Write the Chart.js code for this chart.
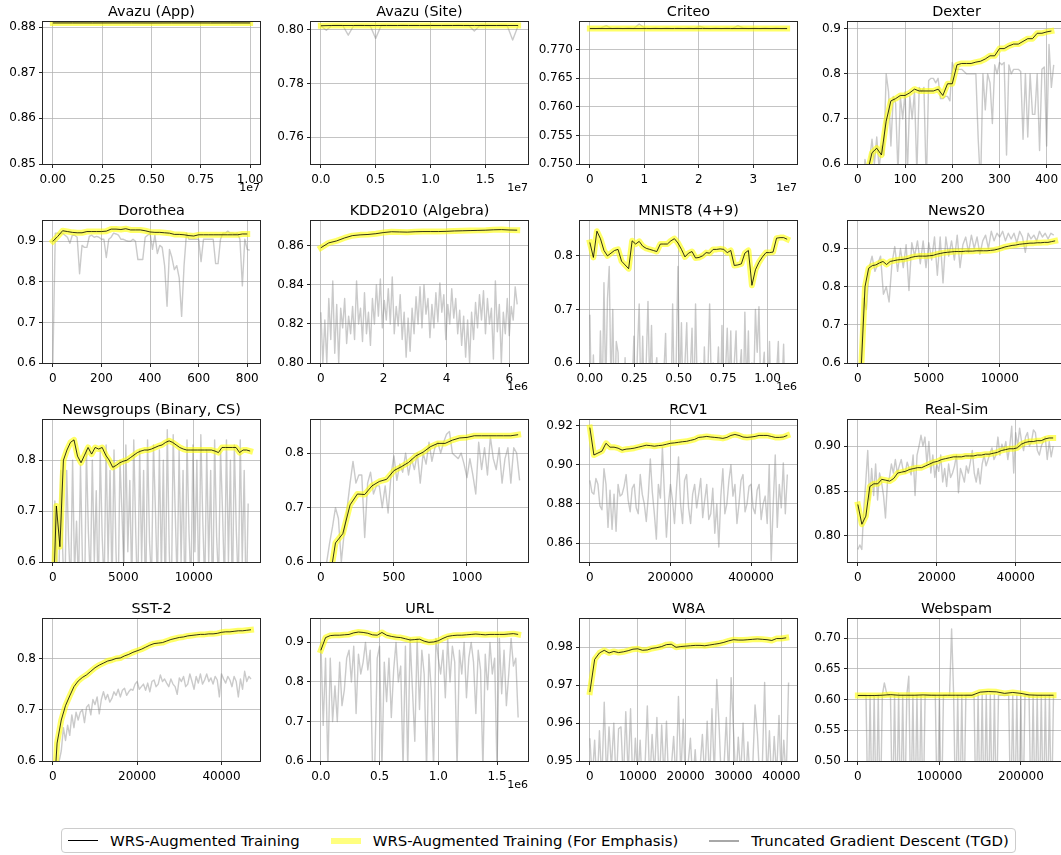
<!DOCTYPE html>
<html lang="en">
<head>
<meta charset="UTF-8">
<title>WRS-Augmented Training vs TGD</title>
<script src="https://cdn.jsdelivr.net/npm/chart.js"></script>
<style>
  body { margin: 0; background: #fff; overflow: hidden; }
  #figure { position: relative; width: 1061px; height: 855px; overflow: hidden; background: #fff; }
  .panel { position: absolute; }
  #legend {
    position: absolute; left: 61px; top: 828px; height: 25px; box-sizing: border-box;
    border: 1px solid #cccccc; border-radius: 4px; background: #fff;
    display: flex; align-items: center; padding: 0 6px; gap: 31px;
    font-family: 'DejaVu Sans', sans-serif; font-size: 14.9px; color: #000; white-space: nowrap;
  }
  #legend .item { display: flex; align-items: center; }
  #legend .swatch { display: inline-block; width: 30px; margin-right: 12px; }
</style>
</head>
<body>
<div id="figure">
  <div id="legend">
    <span class="item"><span class="swatch" style="height:1.3px;background:#000"></span>WRS-Augmented Training</span>
    <span class="item"><span class="swatch" style="height:6px;background:rgba(255,255,0,0.5)"></span>WRS-Augmented Training (For Emphasis)</span>
    <span class="item"><span class="swatch" style="height:2px;background:#a8a8a8"></span>Truncated Gradient Descent (TGD)</span>
  </div>
</div>
<script>
const titles = ['Avazu (App)', 'Avazu (Site)', 'Criteo', 'Dexter',
  'Dorothea', 'KDD2010 (Algebra)', 'MNIST8 (4+9)', 'News20',
  'Newsgroups (Binary, CS)', 'PCMAC', 'RCV1', 'Real-Sim',
  'SST-2', 'URL', 'W8A', 'Webspam'];

// accuracy curves, evenly spaced over each run
const avazuAppWrs = [0.8809,0.8809,0.8809,0.8809,0.8809,0.8809,0.8809,0.8809,0.8809,0.8809,0.8809];
const avazuAppTgd = [0.8808,0.8809,0.8808,0.8809,0.8809,0.8808,0.8809,0.8809,0.8808,0.8809,0.8808];

const avazuSiteWrs = [0.8015,0.8016,0.8016,0.8016,0.8016,0.8016,0.8016,0.8016,0.8016,0.8016,
  0.8016,0.8016,0.8016,0.8016,0.8016,0.8016,0.8016,0.8016,0.8016];
const avazuSiteTgd = [0.8014,0.7998,0.8016,0.8017,0.8016,0.7980,0.8016,0.8017,0.8016,0.8015,
  0.7968,0.8016,0.8017,0.8016,0.8016,0.8018,0.8016,0.8017,0.8016,0.8016,
  0.8017,0.8016,0.8016,0.8017,0.8016,0.8018,0.8016,0.8016,0.7995,0.8016,
  0.8017,0.8016,0.8016,0.8017,0.8016,0.7962,0.8015];

const criteoWrs = [0.7737,0.7737,0.7737,0.7737,0.7737,0.7737,0.7737,0.7737];
const criteoTgd = [0.7737,0.7737,0.7738,0.7742,0.7737,0.7738,0.7737,0.7738,0.7737,0.7745,
  0.7738,0.7737,0.7738,0.7737,0.7738,0.7737,0.7738,0.7737,0.7738,0.7737,
  0.7741,0.7738,0.7737,0.7738,0.7737,0.7738,0.7737,0.7742,0.7738,0.7737,
  0.7738,0.7737,0.7738,0.7737,0.7738,0.7737,0.7737];

const dexterWrs = [0.50,0.53,0.58,0.625,0.635,0.62,0.695,0.74,0.745,0.752,
  0.752,0.758,0.766,0.762,0.762,0.762,0.762,0.766,0.752,0.778,
  0.778,0.82,0.823,0.823,0.823,0.826,0.828,0.833,0.84,0.84,
  0.856,0.856,0.862,0.866,0.866,0.872,0.878,0.878,0.89,0.89,
  0.893,0.895];
const dexterTgd = [0.40,0.45,0.52,0.61,0.58,0.61,0.655,0.60,0.66,0.59,
  0.64,0.62,0.80,0.76,0.64,0.75,0.735,0.58,0.75,0.70,
  0.76,0.58,0.75,0.70,0.76,0.58,0.77,0.76,0.77,0.55,
  0.785,0.79,0.79,0.78,0.79,0.745,0.745,0.75,0.75,0.74,
  0.825,0.81,0.81,0.81,0.81,0.805,0.80,0.80,0.80,0.80,
  0.80,0.655,0.55,0.80,0.72,0.80,0.78,0.69,0.82,0.80,
  0.825,0.82,0.825,0.62,0.82,0.80,0.81,0.81,0.81,0.805,
  0.655,0.80,0.66,0.80,0.71,0.71,0.80,0.63,0.81,0.815,
  0.64,0.865,0.77,0.82];

const dorotheaWrs = [0.900,0.912,0.926,0.924,0.922,0.921,0.921,0.924,0.924,0.924,
  0.924,0.925,0.930,0.930,0.929,0.931,0.928,0.928,0.928,0.926,
  0.923,0.922,0.922,0.921,0.920,0.917,0.917,0.916,0.914,0.913,
  0.916,0.916,0.916,0.916,0.916,0.916,0.916,0.916,0.916,0.918,0.918];
const dorotheaTgd = [0.60,0.92,0.92,0.918,0.92,0.915,0.91,0.895,0.915,0.915,
  0.91,0.82,0.89,0.885,0.885,0.912,0.915,0.91,0.912,0.91,
  0.905,0.905,0.86,0.905,0.91,0.92,0.918,0.915,0.905,0.905,
  0.902,0.90,0.90,0.905,0.90,0.855,0.855,0.855,0.91,0.915,
  0.92,0.88,0.915,0.87,0.89,0.885,0.84,0.74,0.88,0.86,
  0.83,0.84,0.81,0.715,0.84,0.92,0.905,0.905,0.905,0.905,
  0.905,0.85,0.905,0.905,0.905,0.905,0.905,0.845,0.845,0.905,
  0.92,0.92,0.925,0.92,0.92,0.918,0.92,0.905,0.79,0.905,
  0.88,0.878];

const kddWrs = [0.8590,0.8615,0.8625,0.8640,0.8652,0.8656,0.8658,0.8662,0.8668,0.8672,
  0.8671,0.8670,0.8672,0.8673,0.8673,0.8673,0.8674,0.8676,0.8677,0.8678,
  0.8679,0.8680,0.8682,0.8683,0.8681,0.8680];
const kddTgd = [0.826,0.800,0.822,0.800,0.833,0.812,0.842,0.805,0.830,0.800,
  0.828,0.818,0.833,0.810,0.824,0.815,0.829,0.812,0.842,0.820,
  0.828,0.811,0.836,0.815,0.826,0.809,0.833,0.820,0.840,0.824,
  0.843,0.818,0.832,0.822,0.838,0.820,0.844,0.815,0.829,0.819,
  0.835,0.812,0.826,0.803,0.823,0.806,0.828,0.815,0.834,0.820,
  0.839,0.818,0.840,0.825,0.833,0.813,0.830,0.818,0.836,0.821,
  0.841,0.826,0.835,0.812,0.830,0.820,0.838,0.823,0.833,0.815,
  0.827,0.809,0.824,0.803,0.822,0.800,0.826,0.812,0.831,0.818,
  0.835,0.822,0.837,0.815,0.833,0.820,0.828,0.802,0.842,0.816,
  0.830,0.800,0.826,0.815,0.833,0.814,0.829,0.822,0.839,0.830];

const mnistWrs = [0.825,0.797,0.846,0.832,0.810,0.800,0.805,0.810,0.812,0.790,
  0.783,0.776,0.828,0.822,0.827,0.818,0.814,0.812,0.810,0.808,
  0.822,0.822,0.822,0.828,0.832,0.824,0.812,0.798,0.805,0.808,
  0.796,0.797,0.800,0.806,0.805,0.812,0.812,0.813,0.812,0.806,
  0.810,0.782,0.783,0.785,0.805,0.810,0.745,0.774,0.788,0.798,
  0.806,0.806,0.807,0.833,0.834,0.834,0.831];
const mnistTgd = [0.69,0.50,0.615,0.50,0.55,0.50,0.66,0.52,0.75,0.55,
  0.72,0.78,0.55,0.70,0.50,0.64,0.62,0.50,0.58,0.50,
  0.61,0.50,0.56,0.50,0.55,0.65,0.50,0.62,0.71,0.52,
  0.65,0.50,0.60,0.715,0.55,0.67,0.50,0.58,0.61,0.50,
  0.55,0.50,0.58,0.655,0.50,0.56,0.50,0.71,0.52,0.60,
  0.78,0.55,0.675,0.50,0.60,0.675,0.52,0.58,0.665,0.50,
  0.71,0.55,0.50,0.60,0.50,0.63,0.52,0.58,0.71,0.55,
  0.60,0.50,0.56,0.63,0.50,0.67,0.52,0.58,0.665,0.55,
  0.66,0.50,0.60,0.66,0.52,0.58,0.625,0.50,0.695,0.55,
  0.66,0.50,0.60,0.55,0.70,0.62,0.705,0.55,0.58,0.62,
  0.50,0.55,0.64,0.50,0.56,0.50,0.58,0.64,0.50,0.55,
  0.635,0.50,0.56];

const news20Wrs = [0.45,0.60,0.80,0.848,0.855,0.857,0.862,0.866,0.858,0.866,
  0.868,0.870,0.871,0.872,0.874,0.877,0.879,0.880,0.880,0.880,
  0.881,0.882,0.885,0.887,0.889,0.890,0.891,0.892,0.892,0.892,
  0.893,0.893,0.893,0.894,0.894,0.894,0.894,0.895,0.896,0.898,
  0.901,0.904,0.906,0.908,0.909,0.911,0.912,0.913,0.914,0.914,
  0.915,0.915,0.916,0.916,0.918,0.920];
const news20Tgd = [0.45,0.60,0.77,0.74,0.85,0.88,0.84,0.86,0.88,0.78,
  0.80,0.76,0.86,0.905,0.84,0.90,0.85,0.91,0.79,0.915,
  0.88,0.92,0.86,0.92,0.85,0.915,0.87,0.93,0.83,0.93,
  0.81,0.93,0.88,0.92,0.87,0.935,0.85,0.91,0.93,0.89,
  0.935,0.90,0.93,0.885,0.92,0.935,0.90,0.945,0.92,0.94,
  0.93,0.945,0.92,0.94,0.925,0.94,0.915,0.945,0.93,0.89,
  0.94,0.925,0.935,0.92,0.945,0.93,0.94,0.925,0.94,0.935];

const newsgroupsWrs = [0.50,0.71,0.63,0.80,0.82,0.835,0.84,0.808,0.795,0.81,
  0.825,0.812,0.825,0.822,0.825,0.81,0.80,0.786,0.79,0.795,
  0.798,0.80,0.805,0.81,0.815,0.818,0.82,0.82,0.822,0.825,
  0.828,0.83,0.835,0.838,0.835,0.83,0.825,0.822,0.82,0.82,
  0.82,0.82,0.82,0.82,0.82,0.82,0.818,0.815,0.825,0.825,
  0.825,0.825,0.825,0.815,0.82,0.82,0.818];
const newsgroupsTgd = [0.50,0.72,0.60,0.55,0.78,0.62,0.50,0.78,0.64,0.55,
  0.80,0.58,0.68,0.55,0.79,0.60,0.50,0.82,0.66,0.56,
  0.80,0.60,0.74,0.52,0.82,0.65,0.55,0.83,0.60,0.78,
  0.55,0.82,0.62,0.50,0.80,0.70,0.58,0.83,0.62,0.76,
  0.55,0.84,0.66,0.52,0.82,0.60,0.78,0.50,0.84,0.64,
  0.56,0.83,0.70,0.55,0.82,0.58,0.80,0.52,0.86,0.62,
  0.50,0.85,0.70,0.56,0.82,0.60,0.78,0.50,0.84,0.66,
  0.55,0.83,0.62,0.80,0.52,0.85,0.68,0.55,0.82,0.60,
  0.78,0.50,0.84,0.65,0.56,0.82,0.70,0.55,0.84,0.60,
  0.80,0.52,0.83,0.66,0.55,0.84,0.60,0.78,0.50,0.715];

const pcmacWrs = [0.45,0.55,0.635,0.652,0.705,0.725,0.724,0.74,0.748,0.752,
  0.768,0.775,0.783,0.795,0.802,0.812,0.818,0.818,0.824,0.828,
  0.829,0.832,0.832,0.832,0.832,0.832,0.832,0.834];
const pcmacTgd = [0.50,0.55,0.60,0.635,0.665,0.70,0.68,0.60,0.655,0.70,
  0.745,0.785,0.745,0.76,0.76,0.645,0.745,0.765,0.725,0.74,
  0.74,0.70,0.74,0.69,0.76,0.795,0.75,0.78,0.765,0.80,
  0.76,0.79,0.77,0.80,0.745,0.80,0.78,0.82,0.785,0.81,
  0.82,0.80,0.82,0.835,0.84,0.80,0.795,0.79,0.80,0.78,
  0.755,0.79,0.76,0.725,0.82,0.77,0.81,0.76,0.83,0.79,
  0.77,0.81,0.745,0.79,0.81,0.745,0.81,0.80,0.75];

const rcv1Wrs = [0.919,0.905,0.906,0.907,0.911,0.909,0.909,0.9085,0.9075,0.908,
  0.9082,0.9085,0.909,0.9095,0.910,0.9098,0.9095,0.9098,0.910,0.9105,
  0.911,0.9112,0.9115,0.9118,0.912,0.9125,0.913,0.914,0.9142,0.9145,
  0.9142,0.914,0.9138,0.9135,0.914,0.915,0.9155,0.915,0.9142,0.914,
  0.9142,0.9145,0.915,0.915,0.915,0.9145,0.914,0.914,0.9142,0.915];
const rcv1Tgd = [0.892,0.886,0.885,0.893,0.890,0.879,0.877,0.898,0.890,0.868,
  0.887,0.867,0.885,0.866,0.890,0.884,0.885,0.889,0.895,0.882,
  0.876,0.888,0.890,0.878,0.875,0.895,0.885,0.880,0.871,0.884,
  0.903,0.886,0.875,0.862,0.890,0.883,0.909,0.885,0.863,0.880,
  0.890,0.882,0.870,0.888,0.904,0.880,0.870,0.892,0.895,0.878,
  0.870,0.885,0.890,0.878,0.885,0.893,0.873,0.882,0.890,0.872,
  0.875,0.888,0.865,0.880,0.858,0.884,0.898,0.875,0.880,0.892,
  0.900,0.884,0.890,0.870,0.880,0.892,0.895,0.876,0.880,0.889,
  0.890,0.878,0.875,0.887,0.890,0.872,0.880,0.884,0.870,0.900,
  0.851,0.880,0.905,0.868,0.890,0.878,0.901,0.875,0.895];

const realSimWrs = [0.835,0.813,0.822,0.855,0.858,0.858,0.863,0.862,0.861,0.864,
  0.870,0.871,0.872,0.874,0.875,0.876,0.876,0.878,0.880,0.882,
  0.883,0.885,0.886,0.887,0.888,0.888,0.888,0.889,0.889,0.889,
  0.890,0.890,0.891,0.891,0.892,0.893,0.895,0.896,0.897,0.897,
  0.898,0.902,0.904,0.905,0.905,0.906,0.906,0.908,0.909,0.909];
const realSimTgd = [0.785,0.79,0.785,0.83,0.86,0.895,0.84,0.875,0.845,0.88,
  0.84,0.87,0.86,0.845,0.82,0.86,0.865,0.88,0.87,0.885,
  0.87,0.878,0.885,0.872,0.87,0.882,0.875,0.868,0.89,0.845,
  0.89,0.90,0.912,0.90,0.91,0.88,0.905,0.87,0.89,0.865,
  0.88,0.872,0.89,0.86,0.875,0.855,0.88,0.865,0.87,0.878,
  0.89,0.848,0.875,0.868,0.86,0.878,0.87,0.882,0.895,0.87,
  0.86,0.875,0.858,0.88,0.89,0.878,0.885,0.892,0.898,0.885,
  0.89,0.91,0.89,0.902,0.895,0.905,0.885,0.90,0.922,0.87,
  0.915,0.90,0.92,0.905,0.895,0.91,0.915,0.90,0.905,0.918,
  0.915,0.895,0.89,0.90,0.905,0.91,0.885,0.905,0.888,0.90];

const sst2Wrs = [0.50,0.635,0.68,0.708,0.727,0.745,0.756,0.763,0.768,0.775,
  0.782,0.787,0.791,0.795,0.797,0.800,0.801,0.805,0.808,0.812,
  0.815,0.818,0.822,0.826,0.829,0.830,0.831,0.834,0.837,0.839,
  0.841,0.842,0.844,0.845,0.846,0.847,0.847,0.848,0.848,0.849,
  0.851,0.852,0.852,0.853,0.854,0.854,0.855,0.856];
const sst2Tgd = [0.50,0.55,0.58,0.60,0.62,0.665,0.64,0.67,0.65,0.69,
  0.665,0.695,0.68,0.695,0.70,0.675,0.705,0.71,0.69,0.72,
  0.71,0.725,0.692,0.72,0.735,0.72,0.73,0.715,0.722,0.735,
  0.728,0.74,0.725,0.738,0.742,0.728,0.735,0.74,0.738,0.75,
  0.755,0.74,0.745,0.75,0.738,0.752,0.735,0.755,0.758,0.745,
  0.75,0.768,0.755,0.76,0.752,0.745,0.76,0.75,0.745,0.73,
  0.762,0.755,0.765,0.745,0.75,0.77,0.755,0.74,0.765,0.752,
  0.77,0.75,0.758,0.77,0.755,0.762,0.75,0.765,0.758,0.725,
  0.77,0.76,0.752,0.765,0.758,0.745,0.765,0.755,0.725,0.76,
  0.74,0.775,0.755,0.765,0.76];

const urlWrs = [0.880,0.912,0.917,0.918,0.918,0.919,0.920,0.924,0.926,0.925,
  0.923,0.919,0.918,0.925,0.918,0.915,0.913,0.912,0.909,0.906,
  0.907,0.908,0.903,0.900,0.901,0.904,0.910,0.915,0.917,0.918,
  0.918,0.919,0.920,0.921,0.920,0.919,0.920,0.920,0.920,0.920,
  0.921,0.922,0.920];
const urlTgd = [0.90,0.69,0.86,0.58,0.86,0.70,0.79,0.70,0.85,0.74,
  0.78,0.86,0.88,0.80,0.89,0.72,0.87,0.82,0.85,0.90,
  0.83,0.88,0.58,0.60,0.86,0.89,0.58,0.85,0.75,0.86,
  0.71,0.83,0.90,0.80,0.84,0.58,0.89,0.58,0.91,0.78,
  0.65,0.91,0.73,0.88,0.82,0.58,0.87,0.78,0.58,0.91,
  0.86,0.82,0.88,0.76,0.91,0.80,0.89,0.85,0.58,0.88,
  0.82,0.90,0.76,0.86,0.90,0.85,0.72,0.88,0.83,0.58,
  0.87,0.78,0.90,0.82,0.86,0.58,0.91,0.77,0.88,0.74,
  0.82,0.91,0.84,0.86,0.71];

const w8aWrs = [0.9682,0.9768,0.9785,0.9792,0.9785,0.9789,0.9786,0.9788,0.9791,0.9795,
  0.9796,0.9792,0.9793,0.9797,0.9799,0.9802,0.9807,0.9808,0.9800,0.9802,
  0.9803,0.9804,0.9805,0.9805,0.9804,0.9806,0.9808,0.9810,0.9813,0.9817,
  0.9820,0.9819,0.9819,0.9820,0.9821,0.9822,0.9821,0.9820,0.9818,0.9823,
  0.9823,0.9825];
const w8aTgd = [0.956,0.945,0.9555,0.942,0.958,0.944,0.9655,0.945,0.959,0.948,
  0.960,0.943,0.9585,0.959,0.944,0.963,0.946,0.9638,0.942,0.956,
  0.945,0.9555,0.941,0.948,0.9645,0.944,0.957,0.946,0.9615,0.943,
  0.9595,0.945,0.9605,0.942,0.948,0.9565,0.944,0.967,0.946,0.961,
  0.943,0.949,0.956,0.944,0.953,0.942,0.948,0.957,0.945,0.9605,
  0.944,0.9638,0.946,0.9715,0.959,0.943,0.948,0.9615,0.945,0.972,
  0.958,0.944,0.9563,0.946,0.960,0.943,0.955,0.944,0.948,0.9648,
  0.957,0.944,0.948,0.9707,0.945,0.958,0.943,0.9565,0.946,0.962,
  0.944,0.9555,0.945,0.9707];

const webspamWrs = [0.6065,0.6065,0.6065,0.607,0.608,0.607,0.607,0.607,0.6075,0.607,
  0.607,0.607,0.607,0.607,0.607,0.612,0.613,0.6125,0.610,0.6115,
  0.610,0.6075,0.607,0.607,0.607];
const webspamTgd = [0.607,0.607,0.607,0.607,0.607,0.40,0.607,0.40,0.607,0.40,
  0.607,0.40,0.607,0.627,0.612,0.607,0.607,0.40,0.607,0.40,
  0.61,0.40,0.607,0.40,0.607,0.638,0.40,0.607,0.40,0.607,
  0.40,0.607,0.40,0.607,0.607,0.607,0.607,0.607,0.607,0.40,
  0.607,0.40,0.607,0.607,0.607,0.607,0.715,0.607,0.40,0.607,
  0.40,0.607,0.40,0.607,0.607,0.607,0.607,0.607,0.40,0.607,
  0.40,0.608,0.40,0.608,0.40,0.608,0.40,0.608,0.40,0.607,
  0.607,0.607,0.607,0.607,0.607,0.40,0.607,0.40,0.607,0.40,
  0.607,0.40,0.607,0.607,0.607,0.40,0.607,0.40,0.607,0.40,
  0.607,0.40,0.607,0.40,0.607,0.40,0.607];

// tick positions
const yTicksAvazuApp = [0.85, 0.86, 0.87, 0.88];
const yTicksAvazuSite = [0.76, 0.78, 0.80];
const yTicksCriteo = [0.750, 0.755, 0.760, 0.765, 0.770];
const yTicksTenths = [0.6, 0.7, 0.8, 0.9];
const yTicksLow = [0.6, 0.7, 0.8];
const yTicksKdd = [0.80, 0.82, 0.84, 0.86];
const yTicksRcv1 = [0.86, 0.88, 0.90, 0.92];
const yTicksRealSim = [0.80, 0.85, 0.90];
const yTicksW8a = [0.95, 0.96, 0.97, 0.98];
const yTicksWebspam = [0.50, 0.55, 0.60, 0.65, 0.70];

const panels = [
  { wrs: avazuAppWrs, tgd: avazuAppTgd, wrsEnd: 1.0e7, tgdEnd: 1.0e7, span: 1.0e7, y: [0.85, 0.8811], yTicks: yTicksAvazuApp, yDec: 2, xTicks: [0, 2.5e6, 5e6, 7.5e6, 1e7], xDec: 2, exp: 7 },
  { wrs: avazuSiteWrs, tgd: avazuSiteTgd, wrsEnd: 1.8e7, tgdEnd: 1.8e7, span: 1.8e7, y: [0.75, 0.8029], yTicks: yTicksAvazuSite, yDec: 2, xTicks: [0, 5e6, 1e7, 1.5e7], xDec: 1, exp: 7 },
  { wrs: criteoWrs, tgd: criteoTgd, wrsEnd: 3.62e7, tgdEnd: 3.62e7, span: 3.62e7, y: [0.75, 0.77485], yTicks: yTicksCriteo, yDec: 3, xTicks: [0, 1e7, 2e7, 3e7], xDec: 0, exp: 7 },
  { wrs: dexterWrs, tgd: dexterTgd, wrsEnd: 410, tgdEnd: 415, span: 418, y: [0.6, 0.915], yTicks: yTicksTenths, yDec: 1, xTicks: [0, 100, 200, 300, 400], xDec: 0 },
  { wrs: dorotheaWrs, tgd: dorotheaTgd, wrsEnd: 800, tgdEnd: 810, span: 812, y: [0.6, 0.95], yTicks: yTicksTenths, yDec: 1, xTicks: [0, 200, 400, 600, 800], xDec: 0 },
  { wrs: kddWrs, tgd: kddTgd, wrsEnd: 6.25e6, tgdEnd: 6.25e6, span: 6.28e6, y: [0.80, 0.8727], yTicks: yTicksKdd, yDec: 2, xTicks: [0, 2e6, 4e6, 6e6], xDec: 0, exp: 6 },
  { wrs: mnistWrs, tgd: mnistTgd, wrsEnd: 1.11e6, tgdEnd: 1.11e6, span: 1.11e6, y: [0.6, 0.865], yTicks: yTicksLow, yDec: 1, xTicks: [0, 2.5e5, 5e5, 7.5e5, 1e6], xDec: 2, exp: 6 },
  { wrs: news20Wrs, tgd: news20Tgd, wrsEnd: 13900, tgdEnd: 13800, span: 13900, y: [0.6, 0.972], yTicks: yTicksTenths, yDec: 1, xTicks: [0, 5000, 10000], xDec: 0 },
  { wrs: newsgroupsWrs, tgd: newsgroupsTgd, wrsEnd: 14000, tgdEnd: 13860, span: 14000, y: [0.6, 0.879], yTicks: yTicksLow, yDec: 1, xTicks: [0, 5000, 10000], xDec: 0 },
  { wrs: pcmacWrs, tgd: pcmacTgd, wrsEnd: 1350, tgdEnd: 1360, span: 1350, y: [0.6, 0.861], yTicks: yTicksLow, yDec: 1, xTicks: [0, 500, 1000], xDec: 0 },
  { wrs: rcv1Wrs, tgd: rcv1Tgd, wrsEnd: 490000, tgdEnd: 490000, span: 489500, y: [0.8503, 0.9229], yTicks: yTicksRcv1, yDec: 2, xTicks: [0, 200000, 400000], xDec: 0 },
  { wrs: realSimWrs, tgd: realSimTgd, wrsEnd: 49500, tgdEnd: 49500, span: 50000, y: [0.771, 0.929], yTicks: yTicksRealSim, yDec: 2, xTicks: [0, 20000, 40000], xDec: 0 },
  { wrs: sst2Wrs, tgd: sst2Tgd, wrsEnd: 47000, tgdEnd: 47000, span: 46800, y: [0.6, 0.877], yTicks: yTicksLow, yDec: 1, xTicks: [0, 20000, 40000], xDec: 0 },
  { wrs: urlWrs, tgd: urlTgd, wrsEnd: 1.68e6, tgdEnd: 1.68e6, span: 1.68e6, y: [0.6, 0.959], yTicks: yTicksTenths, yDec: 1, xTicks: [0, 5e5, 1e6, 1.5e6], xDec: 1, exp: 6 },
  { wrs: w8aWrs, tgd: w8aTgd, wrsEnd: 41000, tgdEnd: 41500, span: 41200, y: [0.95, 0.98746], yTicks: yTicksW8a, yDec: 2, xTicks: [0, 10000, 20000, 30000, 40000], xDec: 0 },
  { wrs: webspamWrs, tgd: webspamTgd, wrsEnd: 240000, tgdEnd: 240000, span: 242000, y: [0.5, 0.731], yTicks: yTicksWebspam, yDec: 2, xTicks: [0, 100000, 200000], xDec: 0 }
];

// grid geometry (plot area of every subplot)
const COL_LEFT = [43, 311, 580, 848];
const ROW_TOP = [22, 221, 420, 619];
const PLOT_W = 217, PLOT_H = 142;
const AXIS_W = 48, TITLE_H = 21, XAXIS_H = 34, PAD_R = 18;
const GRID = 'rgba(176,176,176,0.75)';

Chart.defaults.font.family = "'DejaVu Sans', sans-serif";
Chart.defaults.color = '#000';

function toPoints(values, xEnd) {
  const step = xEnd / (values.length - 1);
  return values.map((y, i) => ({ x: i * step, y: y }));
}

// axes box and the "1eN" offset text
const framePlugin = {
  id: 'frame',
  afterDatasetsDraw(chart, args, opts) {
    const { ctx, chartArea: a } = chart;
    ctx.save();
    ctx.strokeStyle = '#262626';
    ctx.lineWidth = 1;
    const l = Math.round(a.left) - 0.5, t = Math.round(a.top) - 0.5;
    ctx.strokeRect(l, t, Math.round(a.right) - Math.round(a.left) + 1, Math.round(a.bottom) - Math.round(a.top) + 1);
    if (opts.exp) {
      ctx.fillStyle = '#000';
      ctx.font = "11px 'DejaVu Sans', sans-serif";
      ctx.textAlign = 'right';
      ctx.textBaseline = 'top';
      ctx.fillText('1e' + opts.exp, a.right, a.bottom + 19);
    }
    ctx.restore();
  }
};

const figure = document.getElementById('figure');

panels.forEach((p, i) => {
  const col = i % 4, row = Math.floor(i / 4);
  const canvas = document.createElement('canvas');
  canvas.className = 'panel';
  canvas.width = AXIS_W + PLOT_W + PAD_R;
  canvas.height = TITLE_H + PLOT_H + XAXIS_H;
  canvas.style.left = (COL_LEFT[col] - AXIS_W) + 'px';
  canvas.style.top = (ROW_TOP[row] - TITLE_H) + 'px';
  figure.appendChild(canvas);

  const wrsPts = toPoints(p.wrs, p.wrsEnd);
  const tgdPts = toPoints(p.tgd, p.tgdEnd);
  const div = p.exp ? Math.pow(10, p.exp) : 1;

  new Chart(canvas, {
    type: 'line',
    data: {
      datasets: [
        { label: 'WRS-Augmented Training', data: wrsPts, borderColor: 'rgba(0,0,0,0.8)', borderWidth: 1 },
        { label: 'WRS-Augmented Training (For Emphasis)', data: wrsPts, borderColor: 'rgba(255,255,0,0.6)', borderWidth: 6, borderCapStyle: 'square' },
        { label: 'Truncated Gradient Descent (TGD)', data: tgdPts, borderColor: 'rgba(128,128,128,0.42)', borderWidth: 1.4 }
      ]
    },
    options: {
      responsive: false,
      animation: false,
      devicePixelRatio: 1,
      events: [],
      layout: { padding: { left: 0, right: PAD_R, top: 0, bottom: 0 } },
      elements: {
        point: { radius: 0 },
        line: { tension: 0, borderJoinStyle: 'round' }
      },
      plugins: {
        legend: { display: false },
        tooltip: { enabled: false },
        title: {
          display: true, text: titles[i], fullSize: false, color: '#000',
          font: { size: 14.4, weight: 'normal', lineHeight: 1.2 },
          padding: { top: 2.6, bottom: TITLE_H - 17.28 - 2.6 }
        },
        frame: { exp: p.exp }
      },
      scales: {
        x: {
          type: 'linear',
          min: -0.05 * p.span,
          max: 1.05 * p.span,
          afterBuildTicks: s => { s.ticks = p.xTicks.map(v => ({ value: v })); },
          afterFit: s => { s.height = XAXIS_H; },
          ticks: {
            autoSkip: false, maxRotation: 0, padding: 5,
            font: { size: 12 }, color: '#000',
            callback: v => (v / div).toFixed(p.xDec)
          },
          grid: { color: GRID, lineWidth: 1, tickColor: '#262626', tickLength: 4 },
          border: { display: false }
        },
        y: {
          type: 'linear',
          min: p.y[0],
          max: p.y[1],
          afterBuildTicks: s => { s.ticks = p.yTicks.map(v => ({ value: v })); },
          afterFit: s => { s.width = AXIS_W; },
          ticks: {
            autoSkip: false, padding: 3,
            font: { size: 12 }, color: '#000',
            callback: v => v.toFixed(p.yDec)
          },
          grid: { color: GRID, lineWidth: 1, tickColor: '#262626', tickLength: 4 },
          border: { display: false }
        }
      }
    },
    plugins: [framePlugin]
  });
});
</script>
</body>
</html>
